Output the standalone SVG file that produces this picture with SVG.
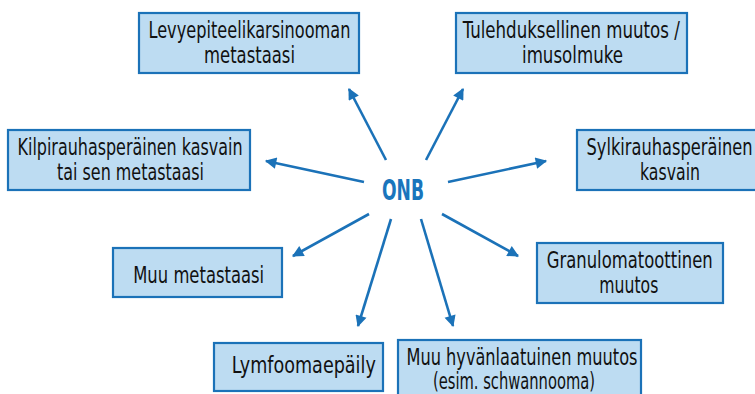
<svg xmlns="http://www.w3.org/2000/svg" width="755" height="394" viewBox="0 0 755 394">
<defs>
<style>
.box{fill:#BDDCF2;stroke:#1B72B8;stroke-width:2.2}
.t{font-family:"Liberation Sans Narrow","DejaVu Sans Condensed","Liberation Sans",sans-serif;font-size:22.5px;fill:#111;text-anchor:middle}
.onb{font-family:"Liberation Sans Narrow","DejaVu Sans Condensed","Liberation Sans",sans-serif;font-size:28px;font-weight:bold;fill:#1A75BC;text-anchor:middle}
.c{stroke:#1B72B8;stroke-width:2.6;fill:none;marker-end:url(#ah)}
</style>
<marker id="ah" viewBox="0 0 10 10" refX="9" refY="5" markerWidth="5" markerHeight="4.4" orient="auto" markerUnits="strokeWidth">
<path d="M0,0 L10,5 L0,10 z" fill="#1B72B8"/>
</marker>
</defs>
<rect width="755" height="394" fill="#fff"/>
<g id="connectors">
<line class="c" x1="386" y1="160" x2="349" y2="89"/>
<line class="c" x1="426" y1="160" x2="463" y2="89"/>
<line class="c" x1="364" y1="182" x2="266" y2="161"/>
<line class="c" x1="448" y1="182" x2="546" y2="161"/>
<line class="c" x1="369" y1="214" x2="293" y2="256"/>
<line class="c" x1="442" y1="214" x2="518" y2="256"/>
<line class="c" x1="391" y1="219" x2="358" y2="326"/>
<line class="c" x1="421" y1="219" x2="453" y2="326"/>
</g>
<g id="onb"><text class="onb" x="403" y="199.5" textLength="42" lengthAdjust="spacingAndGlyphs">ONB</text></g>
<g id="n1">
<rect class="box" x="139" y="13" width="220" height="60"/>
<text class="t" x="249.5" y="37.5" textLength="202" lengthAdjust="spacingAndGlyphs">Levyepiteelikarsinooman</text>
<text class="t" x="249.5" y="62.5" textLength="91" lengthAdjust="spacingAndGlyphs">metastaasi</text>
</g>
<g id="n2">
<rect class="box" x="456" y="13" width="231" height="60"/>
<text class="t" x="571.3" y="37.5" textLength="217" lengthAdjust="spacingAndGlyphs">Tulehduksellinen muutos /</text>
<text class="t" x="572.5" y="62.5" textLength="101" lengthAdjust="spacingAndGlyphs">imusolmuke</text>
</g>
<g id="n3">
<rect class="box" x="8" y="130" width="242" height="60"/>
<text class="t" x="130" y="154.5" textLength="225" lengthAdjust="spacingAndGlyphs">Kilpirauhasperäinen kasvain</text>
<text class="t" x="130.5" y="179.5" textLength="147" lengthAdjust="spacingAndGlyphs">tai sen metastaasi</text>
</g>
<g id="n4">
<rect class="box" x="577" y="130" width="182" height="60"/>
<text class="t" x="669.5" y="154.5" textLength="166" lengthAdjust="spacingAndGlyphs">Sylkirauhasperäinen</text>
<text class="t" x="670" y="179.5" textLength="60" lengthAdjust="spacingAndGlyphs">kasvain</text>
</g>
<g id="n5">
<rect class="box" x="113" y="248" width="169" height="49"/>
<text class="t" x="198.7" y="283" textLength="131" lengthAdjust="spacingAndGlyphs">Muu metastaasi</text>
</g>
<g id="n6">
<rect class="box" x="537" y="243" width="186" height="60"/>
<text class="t" x="629.7" y="267.5" textLength="166" lengthAdjust="spacingAndGlyphs">Granulomatoottinen</text>
<text class="t" x="628.8" y="292.5" textLength="59" lengthAdjust="spacingAndGlyphs">muutos</text>
</g>
<g id="n7">
<rect class="box" x="214" y="343" width="169" height="48"/>
<text class="t" x="303.8" y="372.5" textLength="144" lengthAdjust="spacingAndGlyphs">Lymfoomaepäily</text>
</g>
<g id="n8">
<rect class="box" x="398" y="340" width="243" height="60"/>
<text class="t" x="522" y="365" textLength="231" lengthAdjust="spacingAndGlyphs">Muu hyvänlaatuinen muutos</text>
<text class="t" x="514" y="388.5" textLength="162" lengthAdjust="spacingAndGlyphs">(esim. schwannooma)</text>
</g>
</svg>
